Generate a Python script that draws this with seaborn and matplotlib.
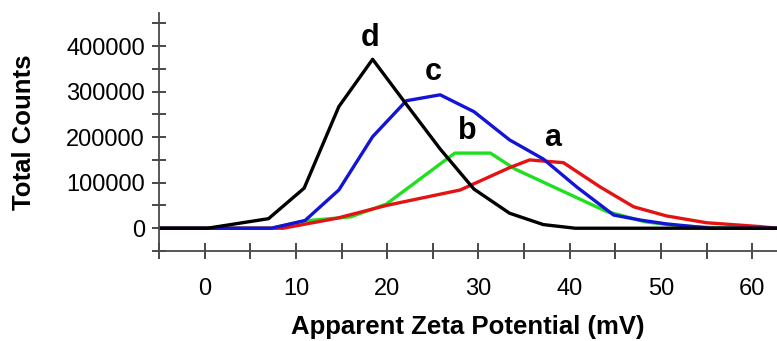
import matplotlib
matplotlib.use("Agg")
import matplotlib.pyplot as plt
import numpy as np
import pandas as pd
import seaborn as sns
from matplotlib.ticker import MultipleLocator

# Zeta potential distributions (apparent zeta potential in mV vs. total counts)
potential_a = [-5, 0.3, 8.6, 14.5, 19.9, 28.0, 33.4, 35.6, 39.3, 43.3, 47.0, 50.6, 55.0, 60.9, 62.7]
counts_a = [0, 0, 0, 22000, 50000, 84000, 133000, 150000, 144000, 91000, 47000, 27000, 12000, 3500, 0]

potential_b = [-5, 0.3, 7.3, 10.9, 16.0, 19.9, 27.4, 31.3, 34.0, 44.0, 48.3, 52.0, 55.7, 59.5, 62.7]
counts_b = [0, 0, 0, 16000, 25000, 53000, 165000, 165000, 130000, 37000, 14000, 5000, 1500, 0, 0]

potential_c = [-5, 0.3, 7.3, 11.0, 14.7, 18.4, 22.1, 25.8, 29.5, 33.4, 37.1, 40.8, 44.8, 47.7, 50.6, 55.4, 62.7]
counts_c = [0, 0, 0, 17000, 84000, 201000, 280000, 293000, 256000, 194000, 152000, 90000, 29000, 18000, 9500, 0, 0]

potential_d = [-5, 0.3, 7.0, 10.9, 14.7, 18.4, 22.1, 25.8, 29.5, 33.4, 37.1, 40.6, 62.7]
counts_d = [0, 0, 21000, 88000, 267000, 371000, 272000, 174000, 86000, 33000, 8000, 0, 0]

series_names = ["b", "a", "c", "d"]
series_colors = {"a": "#e31313", "b": "#1fe01f", "c": "#1414d6", "d": "#000000"}

# Curve labels placed above each peak
label_x = {"a": 38.1, "b": 28.8, "c": 25.0, "d": 18.1}
label_y = {"a": 198000, "b": 213000, "c": 343000, "d": 417500}

x_major = [0, 10, 20, 30, 40, 50, 60]
y_major = [0, 100000, 200000, 300000, 400000]

frames = []
for name, xs, ys in [("a", potential_a, counts_a), ("b", potential_b, counts_b),
                     ("c", potential_c, counts_c), ("d", potential_d, counts_d)]:
    frames.append(pd.DataFrame({"potential": xs, "counts": ys, "sample": name}))
data = pd.concat(frames, ignore_index=True)

sns.set_style("ticks")
plt.rcParams["font.family"] = ["Liberation Sans", "DejaVu Sans"]
plt.rcParams["text.color"] = "black"
plt.rcParams["axes.labelcolor"] = "black"
plt.rcParams["xtick.color"] = "#2a2a2a"
plt.rcParams["ytick.color"] = "#2a2a2a"

fig = plt.figure(figsize=(7.77, 3.41), dpi=100)
ax = fig.add_axes([159 / 777, 90 / 341, 618 / 777, 237.7 / 341])

for name in series_names:
    sub = data[data["sample"] == name]
    sns.lineplot(data=sub, x="potential", y="counts", ax=ax, color=series_colors[name],
                 linewidth=2.4, sort=False, estimator=None, legend=False)

for name in ["a", "b", "c", "d"]:
    ax.text(label_x[name], label_y[name], name, ha="center", va="center",
            fontsize=22, fontweight="bold", color="black")

ax.set_xlim(-5, 62.7)
ax.set_ylim(-50000, 472000)

ax.set_xticks(x_major)
ax.set_xticklabels([str(v) for v in x_major])
ax.set_yticks(y_major)
ax.set_yticklabels([str(v) for v in y_major])
ax.xaxis.set_minor_locator(MultipleLocator(5))
ax.yaxis.set_minor_locator(MultipleLocator(50000))

for side in ["top", "right"]:
    ax.spines[side].set_visible(False)
for side in ["left", "bottom"]:
    ax.spines[side].set_color("#4a4a4a")
    ax.spines[side].set_linewidth(1.3)

ax.tick_params(axis="both", which="both", direction="inout", color="#2a2a2a", width=1.2,
               bottom=True, left=True, labelcolor="black")
ax.tick_params(axis="x", which="both", length=11, labelsize=17, pad=14)
ax.tick_params(axis="y", which="both", length=10, labelsize=17, pad=5)

ax.set_xlabel("Apparent Zeta Potential (mV)", fontsize=18.5, fontweight="bold", labelpad=11)
ax.set_ylabel("Total Counts", fontsize=18.5, fontweight="bold", labelpad=22)

fig.savefig("out.png", dpi=100, facecolor="white")
